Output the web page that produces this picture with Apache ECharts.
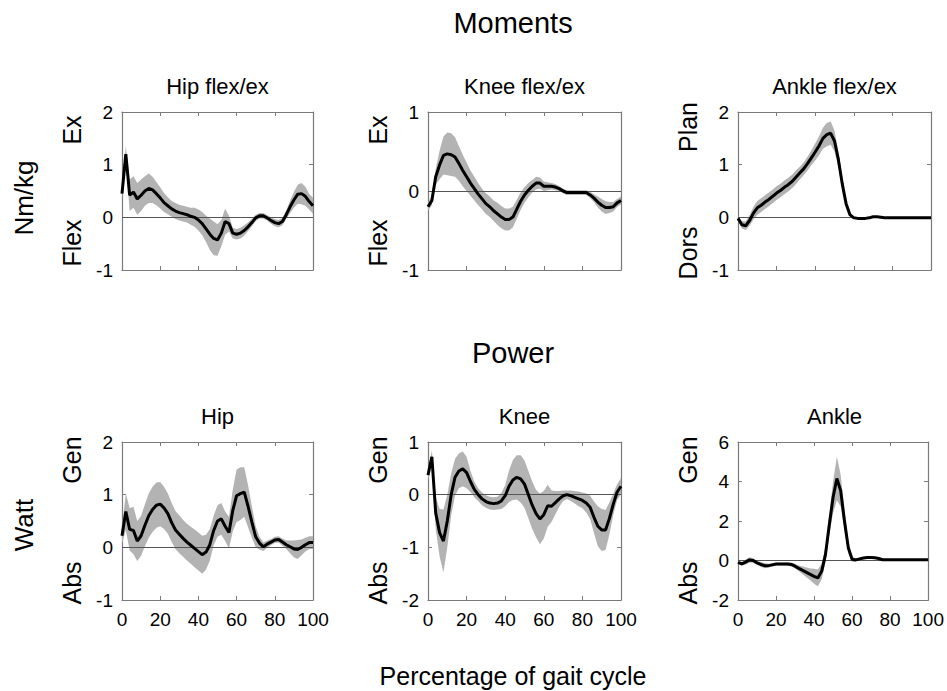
<!DOCTYPE html>
<html>
<head>
<meta charset="utf-8">
<title>Gait moments and power</title>
<script src="https://cdn.jsdelivr.net/npm/echarts@6/dist/echarts.min.js"></script>
<style>
  html, body { margin: 0; padding: 0; background: #fff; }
  #chart { width: 947px; height: 691px; }
</style>
</head>
<body>
<div id="chart"></div>
<script>
// Percentage of gait cycle (sample positions)
const pct = [0,2,4,6,8,10,12,14,16,18,20,22,24,26,28,30,32,34,36,38,40,42,44,46,48,50,
             52,54,56,58,60,62,64,66,68,70,72,74,76,78,80,82,84,86,88,90,92,94,96,98,100];

// Joint moments (Nm/kg): mean and standard deviation
const hipMomMean = [0.45,1.2,0.42,0.48,0.35,0.42,0.5,0.55,0.52,0.45,
  0.37,0.28,0.22,0.16,0.12,0.09,0.07,0.05,0.02,0.0,
  -0.05,-0.12,-0.22,-0.32,-0.4,-0.43,-0.3,-0.08,-0.12,-0.3,
  -0.32,-0.3,-0.25,-0.18,-0.1,-0.01,0.03,0.03,-0.01,-0.06,
  -0.1,-0.12,-0.08,0.05,0.2,0.33,0.44,0.45,0.4,0.3,
  0.22];
const hipMomSd = [0.1,0.15,0.3,0.3,0.3,0.3,0.28,0.28,0.25,0.22,
  0.2,0.18,0.16,0.15,0.15,0.15,0.15,0.15,0.16,0.18,
  0.2,0.22,0.25,0.3,0.32,0.3,0.25,0.25,0.15,0.1,
  0.1,0.1,0.1,0.08,0.07,0.06,0.05,0.05,0.05,0.06,
  0.07,0.07,0.07,0.08,0.12,0.15,0.18,0.2,0.18,0.15,
  0.15];

const kneeMomMean = [-0.2,-0.12,0.18,0.33,0.45,0.47,0.46,0.43,0.35,0.26,
  0.18,0.1,0.03,-0.04,-0.1,-0.16,-0.2,-0.25,-0.29,-0.33,
  -0.36,-0.36,-0.33,-0.23,-0.13,-0.05,0.01,0.06,0.1,0.1,
  0.06,0.06,0.06,0.05,0.03,0.0,-0.02,-0.02,-0.02,-0.02,
  -0.02,-0.02,-0.05,-0.09,-0.14,-0.18,-0.21,-0.21,-0.2,-0.15,
  -0.12];
const kneeMomSd = [0.05,0.06,0.1,0.18,0.24,0.27,0.27,0.25,0.22,0.2,
  0.18,0.16,0.15,0.14,0.13,0.13,0.13,0.13,0.14,0.14,
  0.14,0.14,0.13,0.12,0.11,0.1,0.09,0.08,0.08,0.07,
  0.06,0.05,0.04,0.04,0.03,0.03,0.03,0.03,0.03,0.03,
  0.03,0.03,0.04,0.05,0.07,0.08,0.08,0.07,0.06,0.05,
  0.05];

const ankleMomMean = [-0.02,-0.14,-0.16,-0.06,0.08,0.18,0.23,0.29,0.34,0.4,
  0.46,0.51,0.57,0.62,0.68,0.76,0.84,0.92,1.02,1.13,
  1.24,1.36,1.5,1.57,1.6,1.45,1.1,0.64,0.26,0.05,
  -0.01,-0.02,-0.02,-0.02,-0.01,0.01,0.01,0.0,-0.01,-0.01,
  -0.01,-0.01,-0.01,-0.01,-0.01,-0.01,-0.01,-0.01,-0.01,-0.01,
  -0.01];
const ankleMomSd = [0.04,0.07,0.08,0.1,0.12,0.13,0.13,0.13,0.13,0.13,
  0.13,0.13,0.13,0.13,0.13,0.13,0.12,0.12,0.13,0.14,
  0.16,0.18,0.2,0.22,0.22,0.2,0.15,0.1,0.07,0.04,
  0.02,0.01,0.01,0.01,0.01,0.01,0.01,0.01,0.01,0.01,
  0.01,0.01,0.01,0.01,0.01,0.01,0.01,0.01,0.01,0.01,
  0.01];

// Joint power (Watt): mean and standard deviation
const hipPowMean = [0.22,0.68,0.34,0.32,0.12,0.22,0.42,0.6,0.72,0.8,
  0.82,0.75,0.64,0.47,0.33,0.25,0.17,0.1,0.04,-0.02,
  -0.08,-0.14,-0.09,0.05,0.32,0.5,0.54,0.4,0.28,0.7,
  0.98,1.02,1.05,0.78,0.48,0.2,0.08,0.01,0.06,0.1,
  0.14,0.15,0.1,0.05,0.01,-0.03,-0.04,0.0,0.05,0.09,
  0.09];
const hipPowSd = [0.15,0.35,0.4,0.45,0.38,0.38,0.4,0.42,0.43,0.43,
  0.42,0.4,0.38,0.37,0.36,0.36,0.35,0.35,0.35,0.36,
  0.36,0.36,0.33,0.3,0.28,0.3,0.3,0.28,0.3,0.4,
  0.5,0.5,0.47,0.4,0.3,0.2,0.12,0.08,0.07,0.06,
  0.06,0.06,0.07,0.08,0.12,0.16,0.18,0.15,0.13,0.12,
  0.12];

const kneePowMean = [0.37,0.72,-0.35,-0.72,-0.88,-0.5,0.0,0.33,0.45,0.49,
  0.42,0.25,0.1,0.0,-0.08,-0.13,-0.16,-0.17,-0.16,-0.12,
  -0.02,0.16,0.28,0.33,0.3,0.2,0.0,-0.2,-0.36,-0.46,
  -0.38,-0.21,-0.22,-0.15,-0.08,-0.02,0.0,-0.02,-0.05,-0.08,
  -0.11,-0.16,-0.24,-0.43,-0.6,-0.67,-0.67,-0.45,-0.18,0.05,
  0.16];
const kneePowSd = [0.1,0.12,0.3,0.45,0.6,0.5,0.4,0.35,0.33,0.33,
  0.3,0.2,0.15,0.12,0.12,0.12,0.12,0.12,0.12,0.15,
  0.2,0.3,0.38,0.42,0.45,0.45,0.45,0.45,0.45,0.48,
  0.45,0.4,0.3,0.22,0.15,0.1,0.08,0.1,0.12,0.14,
  0.15,0.18,0.22,0.3,0.38,0.4,0.38,0.3,0.2,0.15,
  0.15];

const anklePowMean = [-0.09,-0.17,-0.08,0.03,0.0,-0.12,-0.2,-0.26,-0.26,-0.22,
  -0.18,-0.18,-0.18,-0.18,-0.2,-0.29,-0.4,-0.5,-0.6,-0.7,
  -0.8,-0.88,-0.55,0.3,1.8,3.2,4.15,3.54,2.0,0.65,
  0.06,0.03,0.08,0.13,0.15,0.15,0.14,0.1,0.04,0.04,
  0.04,0.04,0.04,0.04,0.04,0.04,0.04,0.04,0.04,0.04,
  0.04];
const anklePowSd = [0.08,0.1,0.12,0.14,0.12,0.1,0.12,0.13,0.1,0.08,
  0.07,0.07,0.07,0.08,0.1,0.12,0.15,0.2,0.25,0.3,
  0.38,0.42,0.4,0.4,0.5,0.8,1.1,0.8,0.5,0.3,
  0.12,0.08,0.06,0.05,0.03,0.03,0.03,0.03,0.03,0.03,
  0.03,0.03,0.03,0.03,0.03,0.03,0.03,0.03,0.03,0.03,
  0.03];

// Panel titles, direction labels and y ranges [min, max, step]
const titles = ['Hip flex/ex', 'Knee flex/ex', 'Ankle flex/ex', 'Hip', 'Knee', 'Ankle'];
const upLabels = ['Ex', 'Ex', 'Plan', 'Gen', 'Gen', 'Gen'];
const downLabels = ['Flex', 'Flex', 'Dors', 'Abs', 'Abs', 'Abs'];
const yRanges = [[-1, 2, 1], [-1, 1, 1], [-1, 2, 1], [-1, 2, 1], [-2, 1, 1], [-2, 6, 2]];

const FONT = '"Liberation Sans", Arial, Helvetica, sans-serif';
const AXIS_COLOR = '#7a7a7a';
const BAND_COLOR = '#b3b3b3';

const panels = [
  { mean: hipMomMean,   sd: hipMomSd,   left: 122, top: 112, width: 191, upY: 130, downY: 243, showX: false },
  { mean: kneeMomMean,  sd: kneeMomSd,  left: 428, top: 112, width: 193, upY: 130, downY: 243, showX: false },
  { mean: ankleMomMean, sd: ankleMomSd, left: 738, top: 112, width: 193, upY: 127, downY: 253, showX: false },
  { mean: hipPowMean,   sd: hipPowSd,   left: 122, top: 442, width: 191, upY: 460, downY: 583, showX: true },
  { mean: kneePowMean,  sd: kneePowSd,  left: 428, top: 442, width: 193, upY: 460, downY: 583, showX: true },
  { mean: anklePowMean, sd: anklePowSd, left: 738, top: 442, width: 193, upY: 460, downY: 583, showX: true }
];
const PANEL_H = 158;

const grid = [], xAxis = [], yAxis = [], series = [], graphic = [];

function txt(x, y, text, size, rotate) {
  const el = {
    type: 'text', x: x, y: y, silent: true,
    style: { text: text, font: size + 'px ' + FONT, fill: '#000',
             textAlign: 'center', textVerticalAlign: 'middle' }
  };
  if (rotate) el.rotation = Math.PI / 2;
  return el;
}

// Shaded ±1 SD band: one polygon built from all rows of the series data
function bandRenderer(rows) {
  return function (params, api) {
    if (params.dataIndex !== 0) return null;
    const upper = rows.map(r => api.coord([r[0], r[2]]));
    const lower = rows.map(r => api.coord([r[0], r[1]])).reverse();
    return {
      type: 'polygon',
      shape: { points: upper.concat(lower) },
      style: { fill: BAND_COLOR, stroke: null }
    };
  };
}

panels.forEach((p, i) => {
  const [yMin, yMax, yStep] = yRanges[i];
  grid.push({ left: p.left, top: p.top, width: p.width, height: PANEL_H });

  const tickStyle = { show: true, inside: true, length: 4, lineStyle: { color: AXIS_COLOR, width: 1 } };
  const lineStyle = { show: true, onZero: false, lineStyle: { color: AXIS_COLOR, width: 1.2 } };

  // bottom x axis (labels on the power row only)
  xAxis.push({
    type: 'value', gridIndex: i, min: 0, max: 100, interval: 20, position: 'bottom',
    axisLine: lineStyle, axisTick: tickStyle, splitLine: { show: false },
    axisLabel: { show: p.showX, fontSize: 19, color: '#000', fontFamily: FONT, margin: 10 }
  });
  // top x axis: box edge with ticks
  xAxis.push({
    type: 'value', gridIndex: i, min: 0, max: 100, interval: 20, position: 'top',
    axisLine: lineStyle, axisTick: tickStyle, splitLine: { show: false },
    axisLabel: { show: false }
  });
  // left y axis
  yAxis.push({
    type: 'value', gridIndex: i, min: yMin, max: yMax, interval: yStep, position: 'left',
    axisLine: lineStyle, axisTick: tickStyle, splitLine: { show: false },
    axisLabel: { fontSize: 19, color: '#000', fontFamily: FONT, margin: 9 }
  });
  // right y axis: box edge with ticks
  yAxis.push({
    type: 'value', gridIndex: i, min: yMin, max: yMax, interval: yStep, position: 'right',
    axisLine: lineStyle, axisTick: tickStyle, splitLine: { show: false },
    axisLabel: { show: false }
  });

  const bandRows = pct.map((x, k) => [x,
    +(p.mean[k] - p.sd[k]).toFixed(3),
    +(p.mean[k] + p.sd[k]).toFixed(3)]);
  const mean = pct.map((x, k) => [x, p.mean[k]]);
  const xi = 2 * i, yi = 2 * i;

  series.push({
    type: 'custom', xAxisIndex: xi, yAxisIndex: yi, data: bandRows,
    encode: { x: 0, y: [1, 2] }, renderItem: bandRenderer(bandRows),
    silent: true, z: 2, clip: true
  });
  series.push({
    type: 'line', xAxisIndex: xi, yAxisIndex: yi, data: mean,
    showSymbol: false, symbol: 'none', lineStyle: { color: '#000', width: 3 }, silent: true, z: 4,
    markLine: {
      silent: true, symbol: 'none', label: { show: false }, z: 3,
      lineStyle: { color: '#555', width: 1, type: 'solid' },
      data: [{ yAxis: 0 }]
    }
  });

  const cx = p.left + p.width / 2;
  graphic.push(txt(cx, p.top - 26, titles[i], 22, false));
  graphic.push(txt(p.left - 50, p.upY, upLabels[i], 25, true));
  graphic.push(txt(p.left - 50, p.downY, downLabels[i], 25, true));
});

graphic.push(txt(513, 23, 'Moments', 29, false));
graphic.push(txt(513, 353, 'Power', 29, false));
graphic.push(txt(513, 676, 'Percentage of gait cycle', 25, false));
graphic.push(txt(24, 198, 'Nm/kg', 26, true));
graphic.push(txt(24, 525, 'Watt', 26, true));

const chart = echarts.init(document.getElementById('chart'), null, { renderer: 'svg' });
chart.setOption({
  animation: false,
  backgroundColor: '#fff',
  textStyle: { fontFamily: FONT },
  grid: grid,
  xAxis: xAxis,
  yAxis: yAxis,
  series: series,
  graphic: graphic
});
</script>
</body>
</html>
